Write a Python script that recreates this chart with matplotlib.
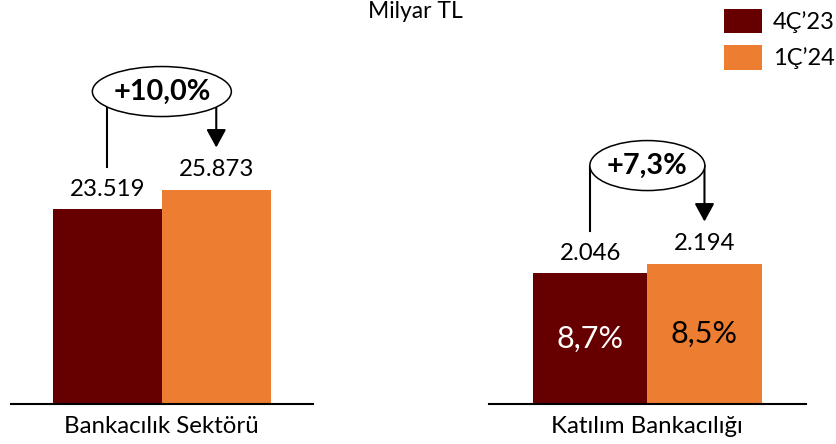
import matplotlib.pyplot as plt
from matplotlib.patches import Ellipse, FancyArrowPatch
from matplotlib.lines import Line2D
from matplotlib.transforms import IdentityTransform

plt.rcParams['font.family'] = ['Lato', 'DejaVu Sans']

# veriler
periods = ['4Ç’23', '1Ç’24']
groups = ['Bankacılık Sektörü', 'Katılım Bankacılığı']
sektor_vals = [23519, 25873]
katilim_vals = [2046, 2194]
growth = ['+10,0%', '+7,3%']
katilim_share = ['8,7%', '8,5%']

colors = ['#660000', '#ED7D31']
W, H = 836, 444

fig = plt.figure(figsize=(W / 100, H / 100), dpi=100)

def px_axes(x0, x1, ybase):
    # eksen: piksel koordinatlarindan (ust-sol orijin)
    return fig.add_axes([x0 / W, (H - ybase) / H, (x1 - x0) / W, ybase / H])

ax1 = px_axes(10.7, 313, 403.7)
ax2 = px_axes(488.7, 806, 403.7)
ax1.set_ylim(0, 48770)
ax2.set_ylim(0, 6320)

ident = IdentityTransform()
w = 0.36
ell_w = [139, 115]

for k, (ax, vals) in enumerate(zip([ax1, ax2], [sektor_vals, katilim_vals])):
    ax.set_xlim(0, 1)
    xs = [0.5 - w / 2, 0.5 + w / 2]
    bars = ax.bar(xs, vals, width=w, color=colors)
    for s in ['top', 'left', 'right']:
        ax.spines[s].set_visible(False)
    ax.spines['bottom'].set_linewidth(1.5)
    ax.set_xticks([])
    ax.set_yticks([])
    ax.patch.set_alpha(0)
    for x, v in zip(xs, vals):
        ax.annotate(f'{v:,}'.replace(',', '.'), (x, v), xytext=(0, 20),
                    textcoords='offset pixels', ha='center', va='center',
                    fontsize=17.3)
    ax.annotate(groups[k], (0.5, 0), xycoords='axes fraction', xytext=(0, -23),
                textcoords='offset pixels', ha='center', va='center',
                fontsize=17.3)

    # buyume oku
    p1 = ax.transData.transform((xs[0], vals[0]))
    p2 = ax.transData.transform((xs[1], vals[1]))
    cy = p2[1] + 98
    cx = (p1[0] + p2[0]) / 2
    fig.add_artist(Line2D([p1[0], p1[0]], [p1[1] + 42, cy], transform=ident,
                          color='black', lw=1.5, zorder=2))
    fig.add_artist(FancyArrowPatch((p2[0], cy), (p2[0], p2[1] + 42),
                                   transform=ident, color='black', lw=1.5,
                                   arrowstyle='-|>,head_length=1.1,head_width=0.6',
                                   mutation_scale=10, shrinkA=0, shrinkB=0,
                                   zorder=2))
    fig.add_artist(Ellipse((cx, cy), ell_w[k], 50, transform=ident,
                           facecolor='white', edgecolor='black', lw=1.1,
                           zorder=3))
    fig.text(cx, cy, growth[k], transform=ident, ha='center', va='center',
             fontsize=20.8, fontweight='bold', zorder=4)

    if k == 1:
        for x, v, t, c in zip(xs, vals, katilim_share, ['white', 'black']):
            ax.text(x, v / 2, t, ha='center', va='center', color=c, fontsize=22)
        leg_handles = bars

fig.legend(leg_handles, periods, loc='upper left',
           bbox_to_anchor=(724 / W, 1 - 9 / H), frameon=False, fontsize=17,
           borderpad=0, borderaxespad=0, handlelength=1.61, handleheight=1.21,
           handletextpad=0.45, labelspacing=0.5)

fig.text(415 / W, 1 - 12 / H, 'Milyar TL', ha='center', va='center', fontsize=16.5)

fig.savefig('out.png', dpi=100)
